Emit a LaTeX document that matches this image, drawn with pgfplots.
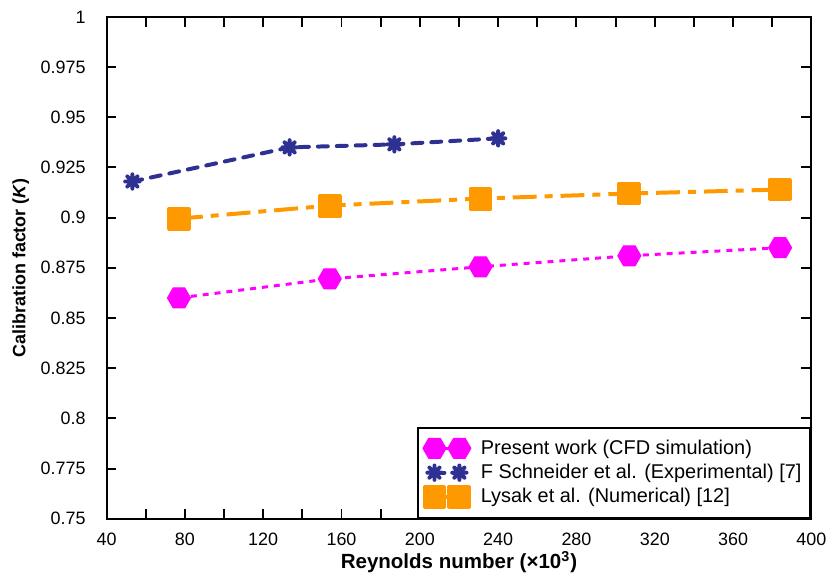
\documentclass[border=0pt]{standalone}
\usepackage{pgfplots}
\pgfplotsset{compat=1.18}
\usepackage{fontspec}
\setmainfont{Liberation Sans}

\definecolor{cfdmag}{RGB}{255,0,255}
\definecolor{expblue}{RGB}{46,49,146}
\definecolor{numorange}{RGB}{255,153,0}

% flat-topped hexagon, vertices pointing left and right
\pgfdeclareplotmark{hexagon*}{%
  \pgfpathmoveto{\pgfqpointpolar{0}{\pgfplotmarksize}}%
  \pgfpathlineto{\pgfqpointpolar{60}{\pgfplotmarksize}}%
  \pgfpathlineto{\pgfqpointpolar{120}{\pgfplotmarksize}}%
  \pgfpathlineto{\pgfqpointpolar{180}{\pgfplotmarksize}}%
  \pgfpathlineto{\pgfqpointpolar{240}{\pgfplotmarksize}}%
  \pgfpathlineto{\pgfqpointpolar{300}{\pgfplotmarksize}}%
  \pgfpathclose
  \pgfusepathqfillstroke}
% eight-spoked asterisk
\pgfdeclareplotmark{star8}{%
  \pgfpathmoveto{\pgfqpoint{-\pgfplotmarksize}{0pt}}%
  \pgfpathlineto{\pgfqpoint{\pgfplotmarksize}{0pt}}%
  \pgfpathmoveto{\pgfqpoint{0pt}{-\pgfplotmarksize}}%
  \pgfpathlineto{\pgfqpoint{0pt}{\pgfplotmarksize}}%
  \pgfpathmoveto{\pgfqpointpolar{45}{\pgfplotmarksize}}%
  \pgfpathlineto{\pgfqpointpolar{225}{\pgfplotmarksize}}%
  \pgfpathmoveto{\pgfqpointpolar{135}{\pgfplotmarksize}}%
  \pgfpathlineto{\pgfqpointpolar{315}{\pgfplotmarksize}}%
  \pgfusepathqstroke}

\begin{document}
\begin{tikzpicture}
\begin{axis}[
  scale only axis,
  width=354pt, height=252pt,
  xmin=40, xmax=400, ymin=0.75, ymax=1,
  axis line style={line width=1pt},
  every tick/.style={black, line width=1pt},
  tick align=inside,
  major tick length=5pt,
  xtick={40,60,...,400},
  xticklabels={40,,80,,120,,160,,200,,240,,280,,320,,360,,400},
  ytick={0.75,0.775,...,1.0001},
  yticklabels={0.75,0.775,0.8,0.825,0.85,0.875,0.9,0.925,0.95,0.975,1},
  ticklabel style={font=\fontsize{9}{10.5}\selectfont},
  yticklabel style={xshift=-7pt},
  xticklabel style={yshift=-3.5pt},
  xlabel={\textbf{Reynolds number (×10\textsuperscript{3})}},
  ylabel={\textbf{Calibration factor (\textit{K})}},
  xlabel style={font=\fontsize{10.3}{12}\selectfont, yshift=4pt},
  ylabel style={font=\fontsize{9}{11}\selectfont, yshift=-1pt},
  legend style={at={(1,0)}, anchor=south east, draw=black, line width=1pt,
    font=\fontsize{10}{12}\selectfont, inner xsep=2.5pt, inner ysep=4pt,
    row sep=-0.5pt, cells={anchor=west},
    /tikz/every odd column/.append style={column sep=3pt}},
  legend image code/.code={%
    \draw[mark repeat=1, mark phase=1, #1] plot coordinates {(0pt,0pt) (12.5pt,0pt)};},
  clip=false,
]
\addplot[cfdmag, line width=1.5pt, dash pattern=on 3pt off 3pt,
  mark=hexagon*, mark size=5.8pt,
  mark options={solid, fill=cfdmag, line width=0.5pt, line join=round}]
  coordinates {(77,0.860) (154,0.8695) (231,0.8755) (307,0.881) (384,0.885)};
\addlegendentry{Present work (CFD simulation)}

\addplot[expblue, line width=2pt, dash pattern=on 5pt off 4.5pt, line cap=round,
  mark=star8, mark size=3.6pt,
  mark options={solid, line width=2pt, line cap=round}]
  coordinates {(53.2,0.918) (133.5,0.935) (187,0.9365) (240,0.9395)};
\addlegendentry{F Schneider et al. (Experimental) [7]}

\addplot[numorange, line width=2pt, dash pattern=on 12pt off 4pt on 4pt off 4pt,
  mark=square*, mark size=5.2pt,
  mark options={solid, fill=numorange, line width=1.6pt, line join=round}]
  coordinates {(77,0.8995) (154,0.906) (231,0.9095) (307,0.912) (384,0.914)};
\addlegendentry{Lysak et al. (Numerical) [12]}
\end{axis}
% fixed page frame around the axis
\path (current axis.south west) ++(-53.5pt,-30.5pt) coordinate (pgsw);
\path (current axis.north east) ++(9pt,8.5pt) coordinate (pgne);
\path (pgsw) rectangle (pgne);
\end{tikzpicture}
\end{document}
